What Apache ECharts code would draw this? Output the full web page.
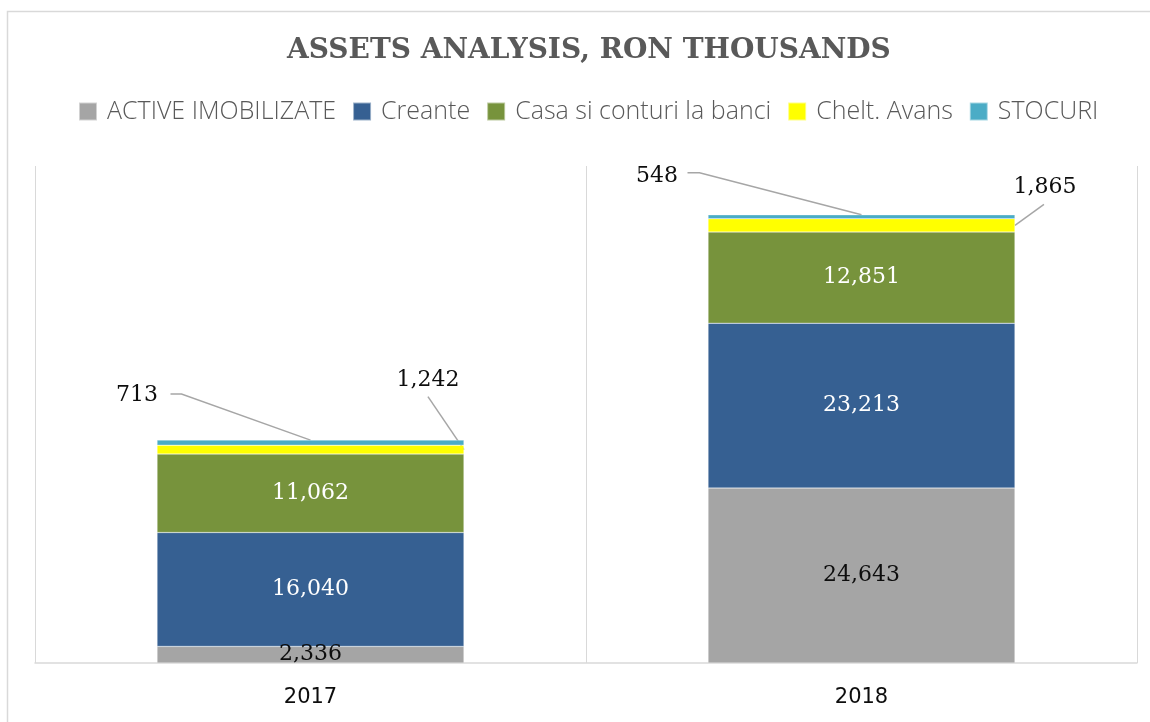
<!DOCTYPE html>
<html><head><meta charset="utf-8">
<script src="https://cdn.jsdelivr.net/npm/echarts@6/dist/echarts.min.js"></script>
<style>
html,body{margin:0;padding:0;background:#fff;}
#c{width:1150px;height:722px;}
</style></head><body><div id="c"></div>
<script>
// ---- data ----
const categories = ['2017', '2018'];
const seriesNames = ['ACTIVE IMOBILIZATE', 'Creante', 'Casa si conturi la banci', 'Chelt. Avans', 'STOCURI'];
const activeImobilizate = [2336, 24643];
const creante = [16040, 23213];
const casaConturi = [11062, 12851];
const cheltAvans = [1242, 1865];
const stocuri = [713, 548];
const yMax = 70000;

// ---- styles ----
const colors = ['#A5A5A5', '#366092', '#77933C', '#FFFF00', '#4BACC6'];
const labelColors = ['#0D0D0D', '#FFFFFF', '#FFFFFF', '#0D0D0D', '#0D0D0D'];
const barRatio = 0.557;
// label offsets (relative to segment's top-left corner) for small outside labels
const avansLabelPos = [[271, -65], [337, -31]];
const stocLabelPos = [[-20, -45], [-51, -39]];
// leader line offsets
const stocLineOff = [[[-140, -46], [-129, -46]], [[-174, -42], [-162, -42]]];
const avansLineOff = [[-36, -53], [29, -21]];

const fmt = v => Number(v).toLocaleString('en-US');
const labelFont = { fontFamily: 'DejaVu Serif', fontSize: 22 };

const allData = [activeImobilizate, creante, casaConturi, cheltAvans, stocuri];

function buildData(idx) {
  const arr = allData[idx];
  if (idx === 3) return arr.map((v, i) => ({ value: v, label: { position: avansLabelPos[i], align: 'center', verticalAlign: 'middle' } }));
  if (idx === 4) return arr.map((v, i) => ({ value: v, label: { position: stocLabelPos[i], align: 'center', verticalAlign: 'middle' } }));
  return arr;
}

const series = seriesNames.map((name, idx) => ({
  name: name,
  type: 'bar',
  stack: 'total',
  barWidth: (barRatio * 100) + '%',
  itemStyle: { color: colors[idx], borderColor: 'rgba(255,255,255,0.5)', borderWidth: 0.5 },
  label: Object.assign({
    show: true,
    position: 'inside',
    color: labelColors[idx],
    formatter: p => fmt(p.value)
  }, labelFont),
  emphasis: { disabled: true },
  data: buildData(idx)
}));

const chart = echarts.init(document.getElementById('c'), null, { renderer: 'canvas' });
chart.setOption({
  animation: false,
  backgroundColor: '#fff',
  title: {
    text: 'ASSETS ANALYSIS, RON THOUSANDS',
    left: 282,
    top: 32,
    textStyle: { fontFamily: 'DejaVu Serif', fontWeight: 'bold', fontSize: 28, color: '#595959' }
  },
  legend: {
    top: 94,
    left: 73,
    icon: 'rect',
    itemWidth: 18,
    itemHeight: 18,
    itemGap: 16,
    textStyle: { fontFamily: 'Open Sans', fontWeight: 300, fontSize: 25, color: '#595959', padding: [0, 0, 0, 5] },
    data: seriesNames
  },
  grid: { left: 35, right: 13, top: 166, bottom: 59, containLabel: false },
  xAxis: {
    type: 'category',
    data: categories,
    axisLine: { lineStyle: { color: '#D9D9D9', width: 1.5 } },
    axisTick: { show: false },
    splitLine: { show: true, lineStyle: { color: '#D9D9D9', width: 1 } },
    axisLabel: { margin: 24, fontFamily: 'DejaVu Sans', fontSize: 21, color: '#0D0D0D' }
  },
  yAxis: {
    type: 'value', min: 0, max: yMax, show: false, splitLine: { show: false }
  },
  series: series
});

// leader lines built from the library's scales
function px(ci, v) { return chart.convertToPixel({ gridIndex: 0 }, [categories[ci], v]); }
const band = px(1, 0)[0] - px(0, 0)[0];
const halfBar = band * barRatio / 2;
const graphics = [{
  type: 'rect', silent: true,
  shape: { x: 7.5, y: 11.5, width: 1300, height: 900 },
  style: { fill: 'none', stroke: '#D9D9D9', lineWidth: 1.5 }
}];
categories.forEach((c, i) => {
  const base = activeImobilizate[i] + creante[i] + casaConturi[i];
  const total = base + cheltAvans[i] + stocuri[i];
  const top = px(i, total);
  const so = stocLineOff[i];
  graphics.push({
    type: 'polyline', silent: true,
    shape: { points: [[top[0] + so[0][0], top[1] + so[0][1]], [top[0] + so[1][0], top[1] + so[1][1]], [top[0], top[1]]] },
    style: { stroke: '#A6A6A6', lineWidth: 1.5, fill: 'none' }
  });
  const mid = px(i, base + cheltAvans[i] / 2);
  const rx = mid[0] + halfBar;
  const ao = avansLineOff[i];
  graphics.push({
    type: 'polyline', silent: true,
    shape: { points: [[rx + ao[0], mid[1] + ao[1]], [rx, mid[1]]] },
    style: { stroke: '#A6A6A6', lineWidth: 1.5, fill: 'none' }
  });
});
chart.setOption({ graphic: graphics });
</script>
</body></html>
